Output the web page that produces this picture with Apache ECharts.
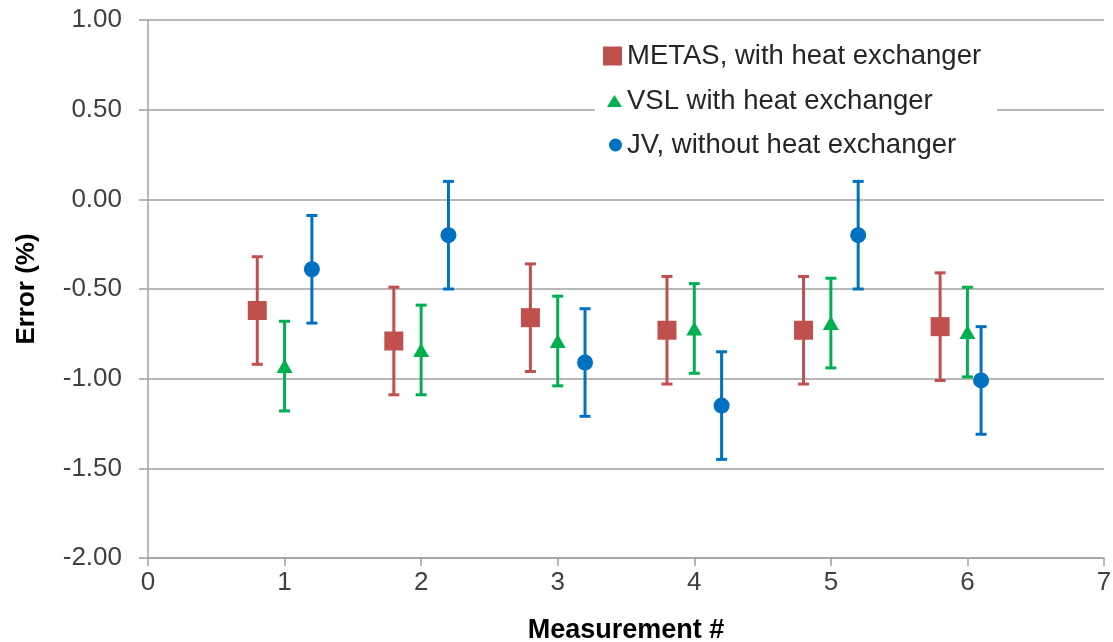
<!DOCTYPE html>
<html>
<head>
<meta charset="utf-8">
<script src="https://cdn.jsdelivr.net/npm/echarts@6/dist/echarts.min.js"></script>
<style>
html,body{margin:0;padding:0;background:#fff;}
#chart{width:1113px;height:642px;}
</style>
</head>
<body>
<div id="chart"></div>
<script>
// ---- data ----
const seriesNames = ['METAS, with heat exchanger', 'VSL with heat exchanger', 'JV, without heat exchanger'];
const metasX = [0.8, 1.8, 2.8, 3.8, 4.8, 5.8];
const metasY = [-0.62, -0.79, -0.66, -0.73, -0.73, -0.71];
const metasErr = [0.30, 0.30, 0.30, 0.30, 0.30, 0.30];
const vslX = [1, 2, 3, 4, 5, 6];
const vslY = [-0.93, -0.84, -0.79, -0.72, -0.69, -0.74];
const vslErr = [0.25, 0.25, 0.25, 0.25, 0.25, 0.25];
const jvX = [1.2, 2.2, 3.2, 4.2, 5.2, 6.1];
const jvY = [-0.39, -0.20, -0.91, -1.15, -0.20, -1.01];
const jvErr = [0.30, 0.30, 0.30, 0.30, 0.30, 0.30];
const xTicks = [0, 1, 2, 3, 4, 5, 6, 7];
const yTicks = [-2.00, -1.50, -1.00, -0.50, 0.00, 0.50, 1.00];

const colors = ['#C0504D', '#00B050', '#0070C0'];

function pts(xs, ys, es) {
  return xs.map((x, i) => es ? [x, ys[i], es[i]] : [x, ys[i]]);
}

function errRender(color) {
  return function (params, api) {
    const x = api.value(0), y = api.value(1), e = api.value(2);
    const top = api.coord([x, y + e]);
    const bot = api.coord([x, y - e]);
    const hw = 5.5;
    const style = { stroke: color, lineWidth: 3, fill: null };
    return {
      type: 'group',
      children: [
        { type: 'line', shape: { x1: top[0], y1: top[1], x2: bot[0], y2: bot[1] }, style: style },
        { type: 'line', shape: { x1: top[0] - hw, y1: top[1], x2: top[0] + hw, y2: top[1] }, style: style },
        { type: 'line', shape: { x1: bot[0] - hw, y1: bot[1], x2: bot[0] + hw, y2: bot[1] }, style: style }
      ]
    };
  };
}

const chart = echarts.init(document.getElementById('chart'), null, { renderer: 'canvas' });
const FONT = '"Liberation Sans", Arial, sans-serif';

function legendFor(i, icon, w, h, top) {
  return {
    data: [{ name: seriesNames[i], icon: icon }],
    left: 622 - w,
    top: top,
    orient: 'vertical',
    padding: 0,
    itemWidth: w,
    itemHeight: h,
    itemGap: 0,
    selectedMode: false,
    textStyle: { fontFamily: FONT, fontSize: 27.5, color: '#262626', lineHeight: 30, padding: [0, 0, 0, 0] },
    z: 10
  };
}

const option = {
  backgroundColor: '#fff',
  animation: false,
  textStyle: { fontFamily: FONT },
  grid: { left: 148, right: 9, top: 20, bottom: 84, containLabel: false, outerBoundsMode: 'none' },
  graphic: [
    { type: 'rect', left: 595, top: 32, shape: { width: 402, height: 140 }, style: { fill: '#ffffff' }, z: 5 }
  ],
  legend: [
    legendFor(0, 'rect', 19, 19, 41),
    legendFor(1, 'triangle', 15, 12, 86),
    legendFor(2, 'circle', 13, 13, 130)
  ],
  xAxis: {
    type: 'value',
    min: xTicks[0],
    max: xTicks[xTicks.length - 1],
    interval: 1,
    name: 'Measurement #',
    nameLocation: 'middle',
    nameGap: 59,
    nameTextStyle: { fontFamily: FONT, fontSize: 27, fontWeight: 'bold', color: '#000' },
    axisLine: { show: true, onZero: false, lineStyle: { color: '#a0a0a0', width: 1.5 } },
    axisTick: { show: true, length: 8, lineStyle: { color: '#a0a0a0', width: 1.5 } },
    axisLabel: { fontFamily: FONT, fontSize: 26, color: '#404040', margin: 12,
      formatter: v => String(v) },
    splitLine: { show: false }
  },
  yAxis: {
    type: 'value',
    min: yTicks[0],
    max: yTicks[yTicks.length - 1],
    interval: 0.5,
    name: 'Error (%)',
    nameLocation: 'middle',
    nameGap: 108,
    nameTextStyle: { fontFamily: FONT, fontSize: 26, fontWeight: 'bold', color: '#000' },
    axisLine: { show: true, onZero: false, lineStyle: { color: '#a0a0a0', width: 1.5 } },
    axisTick: { show: true, length: 9, lineStyle: { color: '#a0a0a0', width: 1.5 } },
    axisLabel: { fontFamily: FONT, fontSize: 26, color: '#404040', margin: 26,
      formatter: v => v.toFixed(2) },
    splitLine: { show: true, lineStyle: { color: '#a0a0a0', width: 1.5 } }
  },
  series: [
    { type: 'custom', name: 'metasErr', renderItem: errRender(colors[0]), data: pts(metasX, metasY, metasErr), z: 2, silent: true },
    { type: 'custom', name: 'vslErr', renderItem: errRender(colors[1]), data: pts(vslX, vslY, vslErr), z: 2, silent: true },
    { type: 'custom', name: 'jvErr', renderItem: errRender(colors[2]), data: pts(jvX, jvY, jvErr), z: 2, silent: true },
    { type: 'scatter', name: seriesNames[0], symbol: 'rect', symbolSize: 19, itemStyle: { color: colors[0], opacity: 1 }, data: pts(metasX, metasY), z: 3 },
    { type: 'scatter', name: seriesNames[1], symbol: 'triangle', symbolSize: [16, 14], itemStyle: { color: colors[1], opacity: 1 }, data: pts(vslX, vslY), z: 3 },
    { type: 'scatter', name: seriesNames[2], symbol: 'circle', symbolSize: 16, itemStyle: { color: colors[2], opacity: 1 }, data: pts(jvX, jvY), z: 3 }
  ]
};
chart.setOption(option);
</script>
</body>
</html>
